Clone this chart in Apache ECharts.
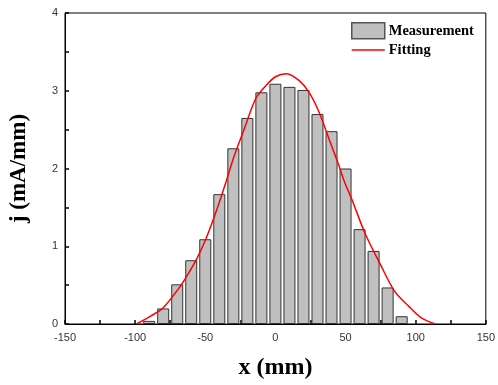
<!DOCTYPE html>
<html>
<head>
<meta charset="utf-8">
<script src="https://cdn.jsdelivr.net/npm/echarts@6/dist/echarts.min.js"></script>
<style>html,body{margin:0;padding:0;background:#fff;}#c{width:498px;height:385px;}</style>
</head>
<body>
<div id="c"></div>
<script>
var barX = [-90,-80,-70,-60,-50,-40,-30,-20,-10,0,10,20,30,40,50,60,70,80,90];
var barY = [0.04,0.20,0.51,0.82,1.09,1.67,2.26,2.65,2.98,3.09,3.05,3.01,2.70,2.48,2.00,1.22,0.94,0.47,0.10];
var fitX = [-99,-89,-80,-68,-62,-56,-49,-42,-35,-30,-23,-14,-7,0,8,17,24,31,38,45,49,55,64,75,85,95,104,114];
var fitY = [0.0,0.10,0.21,0.48,0.65,0.84,1.12,1.46,1.84,2.13,2.47,2.90,3.06,3.18,3.22,3.13,2.98,2.73,2.39,2.05,1.84,1.58,1.16,0.76,0.42,0.23,0.08,0.0];
var xTicks = {min:-150, max:150, interval:50};
var yTicks = {min:0, max:4, interval:1};

var chart = echarts.init(document.getElementById('c'));
chart.setOption({
  animation:false,
  backgroundColor:'#fff',
  grid:{left:64,right:10,top:13,bottom:57,show:true,borderColor:'#000',borderWidth:1,backgroundColor:'transparent'},
  legend:{
    orient:'vertical', left:351, top:22, padding:0, itemWidth:33, itemHeight:16, itemGap:3,
    textStyle:{fontFamily:'Liberation Serif',fontWeight:'bold',fontSize:14.5,color:'#000',padding:[0,0,0,-1]},
    data:[
      {name:'Measurement',icon:'rect',itemStyle:{color:'#c0c0c0',borderColor:'#555',borderWidth:1.5}},
      {name:'Fitting',itemStyle:{opacity:0},lineStyle:{color:'#ff0000',width:1.5}}
    ]
  },
  xAxis:{
    type:'value', min:xTicks.min, max:xTicks.max, interval:xTicks.interval,
    name:'x (mm)', nameLocation:'middle', nameGap:32,
    nameTextStyle:{fontFamily:'Liberation Serif',fontWeight:'bold',fontSize:24,color:'#000'},
    axisLine:{show:true,onZero:false,lineStyle:{color:'#000',width:1}},
    axisTick:{show:true,inside:true,length:4,lineStyle:{color:'#000',width:1.5}},
    minorTick:{show:true,splitNumber:2,length:4,lineStyle:{color:'#000',width:1.5}},
    splitLine:{show:false},
    axisLabel:{fontFamily:'Liberation Sans',fontSize:11,color:'#333',margin:8}
  },
  yAxis:{
    type:'value', min:yTicks.min, max:yTicks.max, interval:yTicks.interval,
    name:'j (mA/mm)', nameLocation:'middle', nameGap:34,
    nameTextStyle:{fontFamily:'Liberation Serif',fontWeight:'bold',fontSize:23,color:'#000'},
    axisLine:{show:true,onZero:false,lineStyle:{color:'#000',width:1}},
    axisTick:{show:true,inside:true,length:4,lineStyle:{color:'#000',width:1.5}},
    minorTick:{show:true,splitNumber:2,length:4,lineStyle:{color:'#000',width:1.5}},
    splitLine:{show:false},
    axisLabel:{fontFamily:'Liberation Sans',fontSize:11,color:'#333',margin:7}
  },
  series:[
    {
      name:'Measurement', type:'bar', barWidth:12,
      itemStyle:{color:'#c0c0c0',borderColor:'#333',borderWidth:1},
      data: barX.map(function(x,i){return [x,barY[i]];})
    },
    {
      name:'Fitting', type:'line', smooth:0.3, symbol:'none', showSymbol:false,
      lineStyle:{color:'#ff0000',width:1.5}, itemStyle:{color:'#ff0000'},
      data: fitX.map(function(x,i){return [x,fitY[i]];})
    }
  ]
});
</script>
</body>
</html>
